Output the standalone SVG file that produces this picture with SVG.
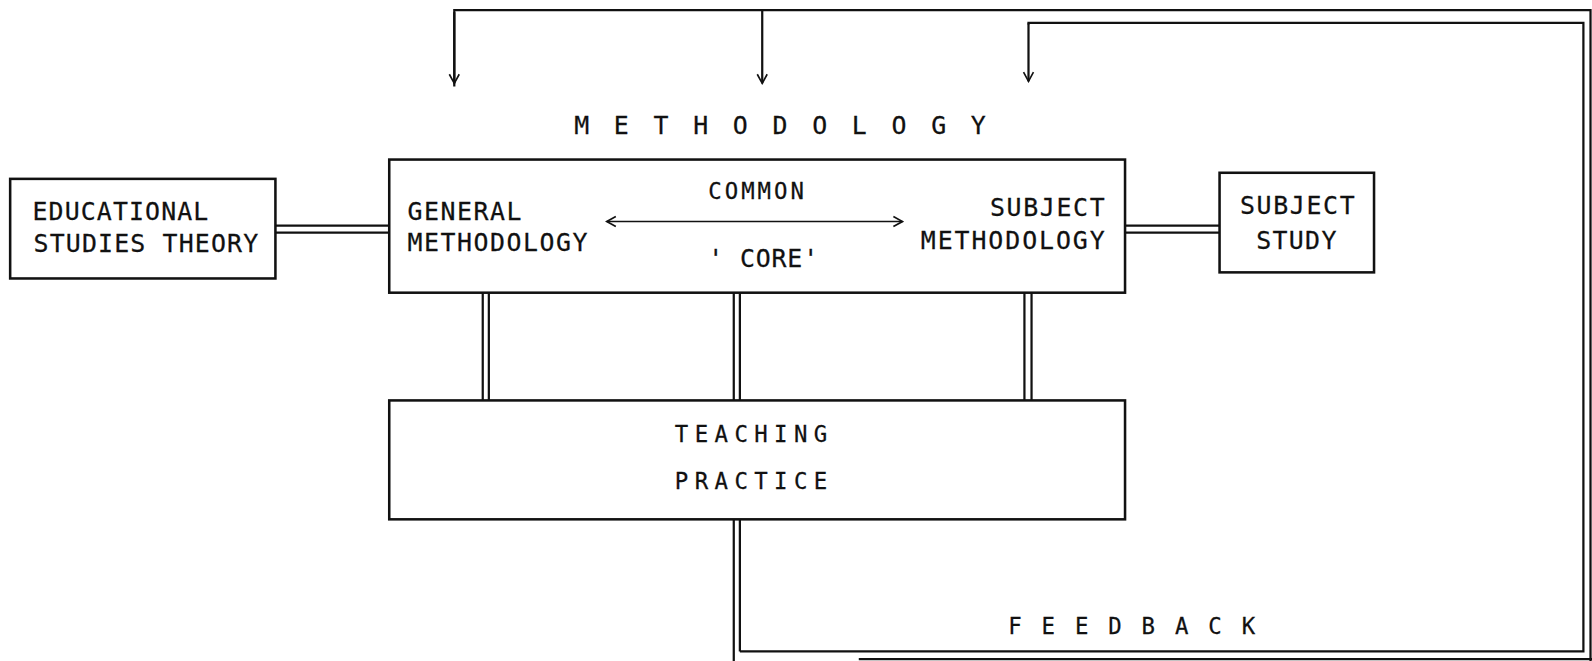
<svg xmlns="http://www.w3.org/2000/svg" width="1592" height="661" viewBox="0 0 1592 661">
<style>
.box{fill:none;stroke:#111;stroke-width:2.5}
.ln{fill:none;stroke:#111;stroke-width:2.2}
.t{font-family:"DejaVu Sans Mono","Liberation Mono",monospace;font-size:24.5px;fill:#111;stroke:#111;stroke-width:0.25}
.s{font-size:22px}
</style>
<defs>
<marker id="ah" viewBox="0 0 16 16" refX="14" refY="8" markerWidth="13" markerHeight="13" markerUnits="userSpaceOnUse" orient="auto-start-reverse">
<path d="M3,2 L14,8 L3,14" fill="none" stroke="#111" stroke-width="2"/>
</marker>
</defs>
<rect width="1592" height="661" fill="#fff"/>
<g transform="scale(1.0163)">
<g id="connectors">
<path class="ln" d="M447,85 L447,10 L1565,10 L1565,661"/>
<line class="ln" x1="447" y1="12" x2="447" y2="82" marker-end="url(#ah)"/>
<line class="ln" x1="750" y1="10" x2="750" y2="82" marker-end="url(#ah)"/>
<path class="ln" d="M1012,24 L1012,22.5 L1558,22.5 L1558,641 L728,641"/>
<line class="ln" x1="1012" y1="23" x2="1012" y2="80" marker-end="url(#ah)"/>
<line class="ln" x1="845" y1="648.5" x2="1575" y2="648.5"/>
<line class="ln" x1="722" y1="511" x2="722" y2="661"/>
<line class="ln" x1="728" y1="511" x2="728" y2="641"/>
<line class="ln" x1="271" y1="222" x2="383" y2="222"/>
<line class="ln" x1="271" y1="229" x2="383" y2="229"/>
<line class="ln" x1="1107" y1="222" x2="1200" y2="222"/>
<line class="ln" x1="1107" y1="229" x2="1200" y2="229"/>
<line class="ln" x1="475" y1="288" x2="475" y2="394"/>
<line class="ln" x1="481" y1="288" x2="481" y2="394"/>
<line class="ln" x1="722" y1="288" x2="722" y2="394"/>
<line class="ln" x1="728" y1="288" x2="728" y2="394"/>
<line class="ln" x1="1008" y1="288" x2="1008" y2="394"/>
<line class="ln" x1="1015" y1="288" x2="1015" y2="394"/>
<line class="ln" x1="597" y1="218" x2="888" y2="218" marker-start="url(#ah)" marker-end="url(#ah)" style="stroke-width:1.6"/>
</g>
<text class="t" x="565" y="132" textLength="405" lengthAdjust="spacing">METHODOLOGY</text>
<text class="t s" x="992" y="624" textLength="243" lengthAdjust="spacing">FEEDBACK</text>
<g id="educational">
<rect class="box" x="10" y="176" width="261" height="98"/>
<text class="t" x="32" y="216.5" textLength="173" lengthAdjust="spacing">EDUCATIONAL</text>
<text class="t" x="33" y="248" textLength="221" lengthAdjust="spacing">STUDIES THEORY</text>
</g>
<g id="methodology">
<rect class="box" x="383" y="157" width="724" height="131"/>
<text class="t" x="401" y="216" textLength="112" lengthAdjust="spacing">GENERAL</text>
<text class="t" x="401" y="247" textLength="177" lengthAdjust="spacing">METHODOLOGY</text>
<text class="t s" x="697" y="196" textLength="94" lengthAdjust="spacing">COMMON</text>
<text class="t" x="697" y="263" textLength="108" lengthAdjust="spacing">' CORE'</text>
<text class="t" x="974" y="213" textLength="113" lengthAdjust="spacing">SUBJECT</text>
<text class="t" x="906" y="245" textLength="181" lengthAdjust="spacing">METHODOLOGY</text>
</g>
<g id="subjectstudy">
<rect class="box" x="1200" y="170" width="152" height="98"/>
<text class="t" x="1220" y="211" textLength="113" lengthAdjust="spacing">SUBJECT</text>
<text class="t" x="1236" y="245" textLength="79" lengthAdjust="spacing">STUDY</text>
</g>
<g id="teaching">
<rect class="box" x="383" y="394" width="724" height="117"/>
<text class="t s" x="664" y="435" textLength="150" lengthAdjust="spacing">TEACHING</text>
<text class="t s" x="664" y="481" textLength="150" lengthAdjust="spacing">PRACTICE</text>
</g>
</g>
</svg>
